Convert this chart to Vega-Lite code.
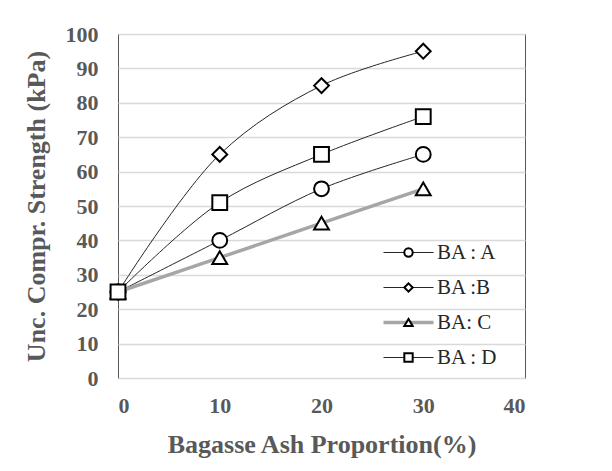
{
  "$schema": "https://vega.github.io/schema/vega-lite/v6.json",
  "width": 407,
  "height": 344,
  "autosize": {"type": "none"},
  "padding": {"left": 118, "top": 34, "right": 87, "bottom": 93},
  "background": "white",
  "config": {
    "font": "Liberation Serif",
    "view": {"stroke": "#595959", "strokeWidth": 1},
    "axis": {
      "labelFont": "Liberation Serif",
      "labelFontWeight": "bold",
      "labelFontSize": 22,
      "labelColor": "#595959",
      "labelOverlap": false,
      "titleFont": "Liberation Serif",
      "titleFontWeight": "bold",
      "titleFontSize": 26,
      "titleColor": "#595959",
      "domain": false,
      "ticks": false,
      "tickSize": 0
    }
  },
  "data": {
    "values": [
      {"x": 0, "y": 25, "series": "BA : A"},
      {"x": 10, "y": 40, "series": "BA : A"},
      {"x": 20, "y": 55, "series": "BA : A"},
      {"x": 30, "y": 65, "series": "BA : A"},
      {"x": 0, "y": 25, "series": "BA :B"},
      {"x": 10, "y": 65, "series": "BA :B"},
      {"x": 20, "y": 85, "series": "BA :B"},
      {"x": 30, "y": 95, "series": "BA :B"},
      {"x": 0, "y": 25, "series": "BA: C"},
      {"x": 10, "y": 35, "series": "BA: C"},
      {"x": 20, "y": 45, "series": "BA: C"},
      {"x": 30, "y": 55, "series": "BA: C"},
      {"x": 0, "y": 25, "series": "BA : D"},
      {"x": 10, "y": 51, "series": "BA : D"},
      {"x": 20, "y": 65, "series": "BA : D"},
      {"x": 30, "y": 76, "series": "BA : D"}
    ]
  },
  "encoding": {
    "x": {
      "field": "x", "type": "quantitative",
      "scale": {"domain": [0, 40]},
      "axis": {"values": [0, 10, 20, 30, 40], "grid": false, "labelOverlap": false, "title": "Bagasse Ash Proportion(%)", "labelPadding": 17, "titlePadding": 15}
    },
    "y": {
      "field": "y", "type": "quantitative",
      "scale": {"domain": [0, 100]},
      "axis": {"values": [0, 10, 20, 30, 40, 50, 60, 70, 80, 90, 100], "grid": true, "labelOverlap": false, "gridColor": "#d9d9d9", "gridWidth": 1.5, "title": "Unc. Compr. Strength (kPa)", "labelPadding": 20, "titlePadding": 16}
    }
  },
  "layer": [
    {
      "mark": {"type": "line", "interpolate": "catmull-rom"},
      "encoding": {
        "stroke": {
          "field": "series", "type": "nominal", "sort": null,
          "scale": {"range": ["#262626", "#262626", "#a6a6a6", "#262626"]},
          "legend": {
            "orient": "none", "legendX": 280, "legendY": 208, "title": null,
            "symbolType": "stroke", "symbolSize": 2500,
            "labelFont": "Liberation Serif", "labelFontSize": 21, "labelColor": "#262626",
            "labelOffset": 18, "rowPadding": 13, "padding": 0,
            "encode": {"symbols": {"update": {"strokeWidth": {"signal": "datum.value === 'BA: C' ? 3.5 : 1"}}}}
          }
        },
        "strokeWidth": {"condition": {"test": "datum.series === 'BA: C'", "value": 3.5}, "value": 1}
      }
    },
    {
      "mark": {"type": "point", "filled": true, "fill": "white", "stroke": "black", "strokeWidth": 2, "size": 220, "opacity": 1},
      "encoding": {
        "shape": {
          "field": "series", "type": "nominal",
          "scale": {"domain": ["BA : A", "BA :B", "BA: C", "BA : D"], "range": ["circle", "diamond", "triangle-up", "square"]},
          "legend": {
            "orient": "none", "legendX": 280, "legendY": 208, "title": null, "zindex": 1,
            "symbolSize": 70, "symbolStrokeWidth": 2,
            "labelFont": "Liberation Serif", "labelFontSize": 21, "labelOpacity": 0, "labelExpr": "''",
            "labelOffset": 5, "rowPadding": 13, "padding": 0,
            "encode": {"symbols": {"update": {"fill": {"value": "white"}, "stroke": {"value": "black"}, "strokeWidth": {"value": 2}}}}
          }
        }
      }
    }
  ]
}
